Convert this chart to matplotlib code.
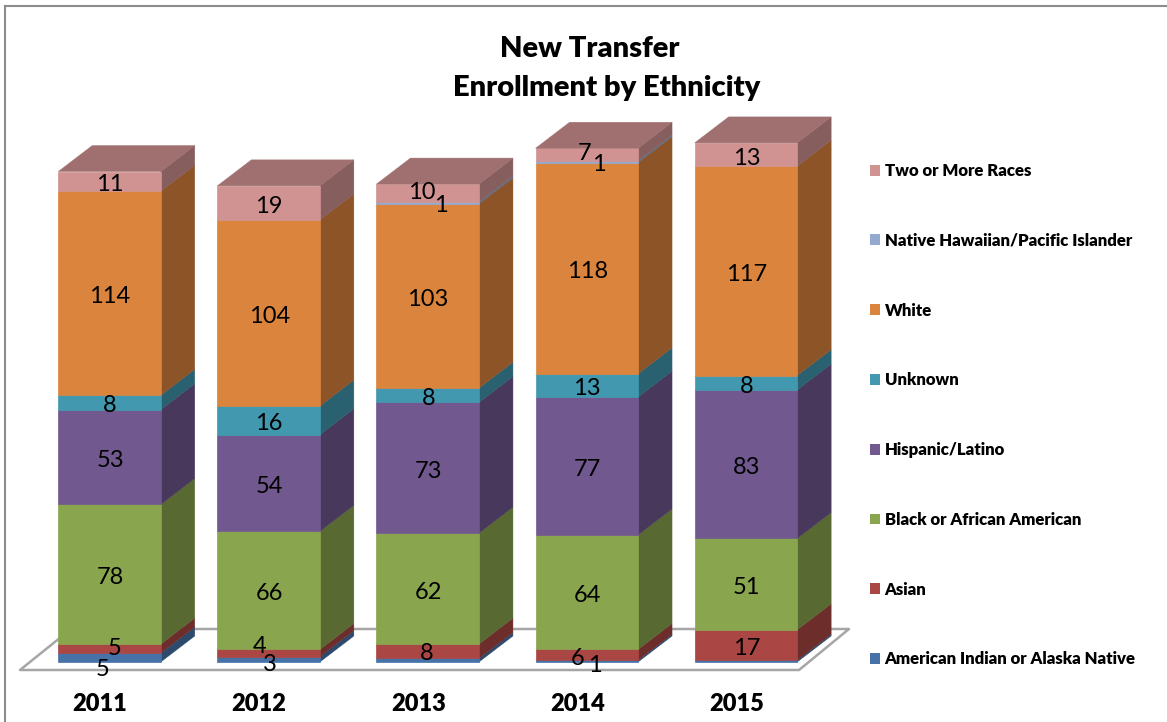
import matplotlib
matplotlib.use('Agg')
import matplotlib.pyplot as plt
import numpy as np
from matplotlib.patches import Patch, Polygon

plt.rcParams['font.family'] = ['Lato', 'DejaVu Sans']

years = ['2011', '2012', '2013', '2014', '2015']
series = ['American Indian or Alaska Native', 'Asian',
          'Black or African American', 'Hispanic/Latino', 'Unknown', 'White',
          'Native Hawaiian/Pacific Islander', 'Two or More Races']
colors = ['#4672A8', '#AA4643', '#89A54E', '#71588F', '#4198AF', '#DB843D',
          '#93A9CF', '#D19392']

american_indian = [5, 3, 2, 1, 1]
asian = [5, 4, 8, 6, 17]
black = [78, 66, 62, 64, 51]
hispanic = [53, 54, 73, 77, 83]
unknown = [8, 16, 8, 13, 8]
white = [114, 104, 103, 118, 117]
hawaiian = [0, 0, 1, 1, 0]
two_more = [11, 19, 10, 7, 13]
values = np.array([american_indian, asian, black, hispanic, unknown, white,
                   hawaiian, two_more])

# geometry of the picture, in pixels
W, H = 1167, 722
LEFT, TOP = 5, 6
X0, XSTEP = 109.5, 159.1
Y0, YSCALE = 662, 1.79
BAR_W, DEPTH_X, DEPTH_Y = 102.5, 34, 26
BOLD = 800

# data labels that PowerPoint pushed away from the middle of the segment
nudge = {(0, 0): (-7, -10), (1, 0): (5, 2),
         (0, 1): (1, -3), (1, 1): (-9, 9),
         (1, 2): (-1, 0), (6, 2): (13, -1), (7, 2): (-6, 3),
         (0, 3): (8, -2), (1, 3): (-9, -2), (6, 3): (12, -1), (7, 3): (-2, 3)}
hidden = {(0, 2), (0, 4)}


def px(x):
    return (x - X0) / XSTEP


def py(y):
    return (Y0 - y) / YSCALE


fig = plt.figure(figsize=(W / 100, H / 100), dpi=100)
ax = fig.add_axes([LEFT / W, 0, 1 - LEFT / W, 1 - TOP / H])
ax.set_xlim(px(LEFT), px(W))
ax.set_ylim(py(H), py(TOP))
for side in ['right', 'bottom']:
    ax.spines[side].set_visible(False)
for side in ['left', 'top']:
    ax.spines[side].set_color('#8C8C8C')
    ax.spines[side].set_linewidth(1.5)

# Floor
floor = [(px(20), py(670)), (px(71), py(629)), (px(849), py(629)),
         (px(799), py(670))]
ax.add_patch(Polygon(floor, closed=True, fc='white', ec='#A6A6A6', lw=1.8,
                     joinstyle='round', zorder=1))

half = BAR_W / 2 / XSTEP
dx = DEPTH_X / XSTEP
dy = DEPTH_Y / YSCALE


def shade(color, k):
    return tuple(c * k for c in matplotlib.colors.to_rgb(color))


for j, year in enumerate(years):
    base = 0
    top_color = colors[0]
    for i, name in enumerate(series):
        v = values[i, j]
        if v == 0:
            continue
        lo, hi = base, base + v
        xl, xr = j - half, j + half
        ax.add_patch(Polygon([(xr, lo), (xr + dx, lo + dy), (xr + dx, hi + dy),
                              (xr, hi)], closed=True, fc=shade(colors[i], 0.64),
                             ec=shade(colors[i], 0.64), lw=0.3, zorder=2))
        ax.add_patch(Polygon([(xl, lo), (xr, lo), (xr, hi), (xl, hi)],
                             closed=True, fc=colors[i], ec=colors[i], lw=0.5,
                             zorder=3))
        base = hi
        top_color = colors[i]
    ax.add_patch(Polygon([(xl, base), (xr, base), (xr + dx, base + dy),
                          (xl + dx, base + dy)], closed=True,
                         fc=shade(top_color, 0.76), ec=shade(top_color, 0.76),
                         lw=0.3, zorder=3))

    # Labels
    base = 0
    for i, name in enumerate(series):
        v = values[i, j]
        if v > 0 and (i, j) not in hidden:
            off = nudge.get((i, j), (0.5, -1.5))
            ax.annotate(str(v), (j, base + v / 2), xytext=off,
                        textcoords='offset pixels', ha='center',
                        va='center_baseline', fontsize=17, color='black',
                        zorder=5)
        base += v

ax.set_yticks([])
ax.set_xticks(np.arange(len(years)) - 9.5 / XSTEP)
ax.set_xticklabels(years, fontsize=17, fontweight=BOLD)
ax.tick_params(axis='x', length=0, pad=-21)

handles = [Patch(fc=c, ec='none') for c in colors[::-1]]
ax.legend(handles, series[::-1], loc='upper left',
          bbox_to_anchor=(870 / W, (H - 163) / H),
          bbox_transform=fig.transFigure, frameon=False,
          prop={'weight': BOLD, 'size': 12.1}, labelspacing=3.2,
          handlelength=0.62, handleheight=0.62, handletextpad=0.25,
          borderpad=0, borderaxespad=0)

fig.text(590 / W, 1 - 49 / H, 'New Transfer', ha='center', va='center',
         fontsize=21, fontweight=BOLD)
fig.text(607 / W, 1 - 88 / H, 'Enrollment by Ethnicity', ha='center',
         va='center', fontsize=21, fontweight=BOLD)

fig.savefig('out.png', dpi=100)
